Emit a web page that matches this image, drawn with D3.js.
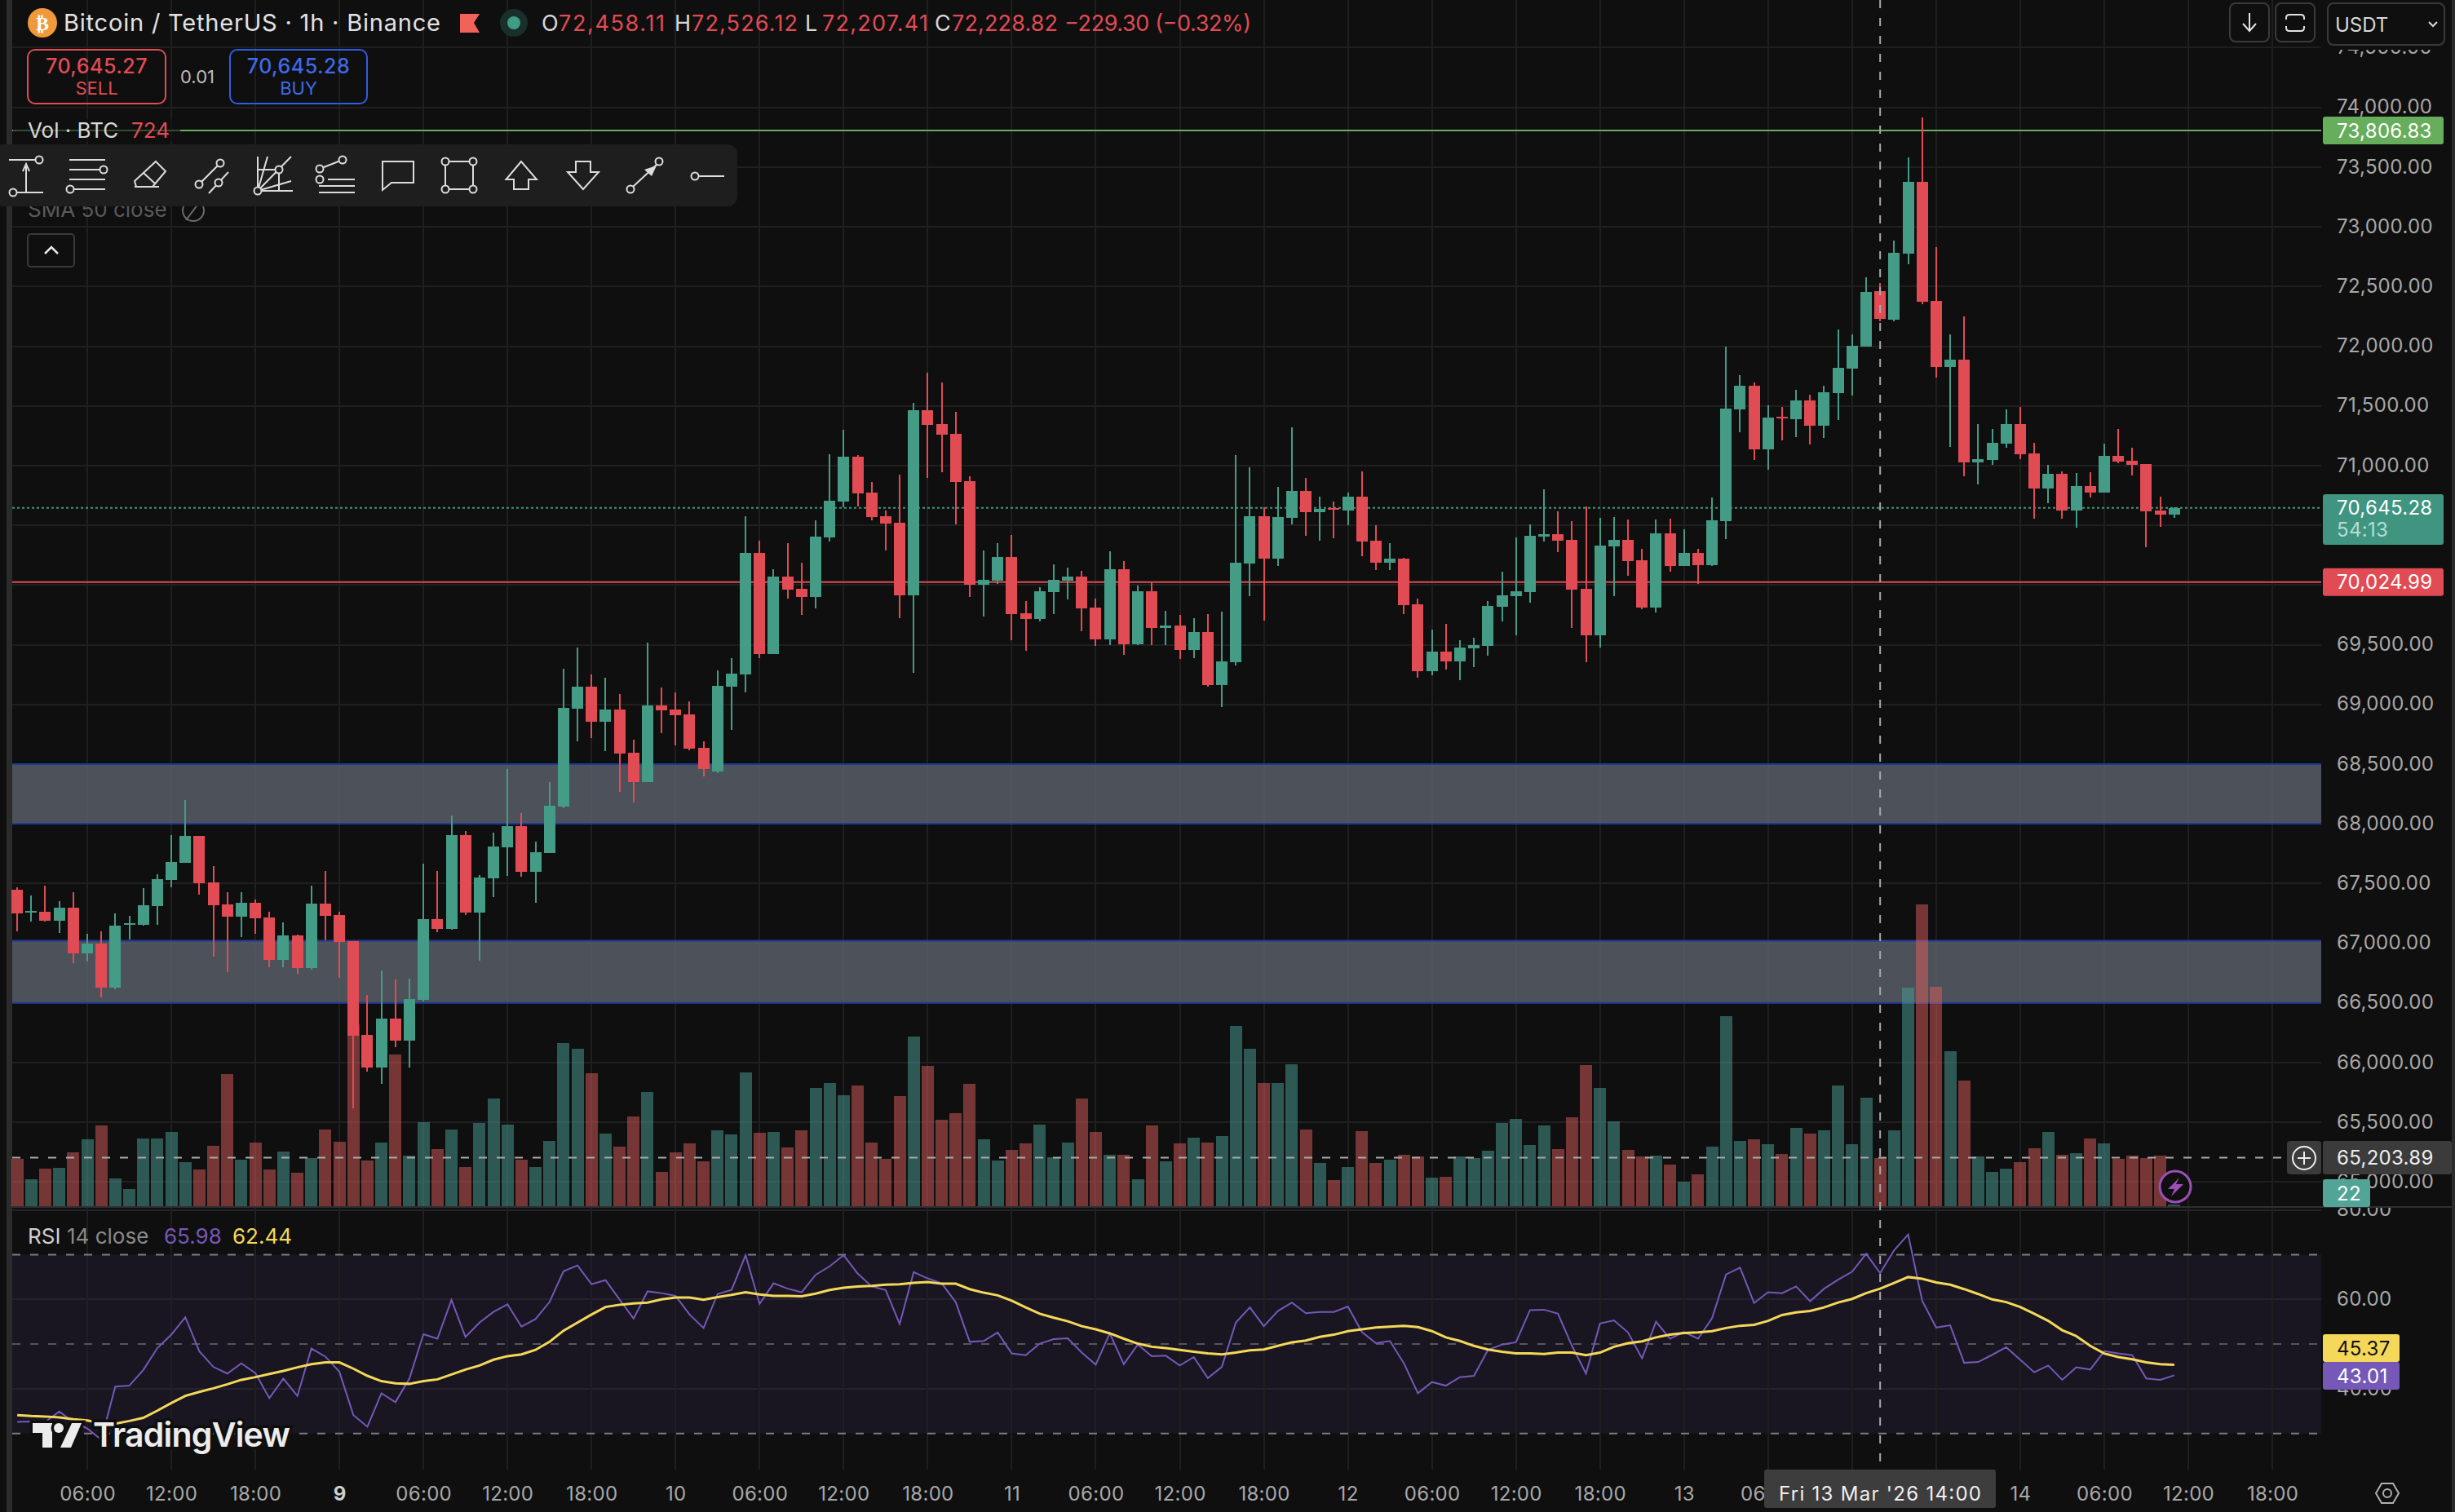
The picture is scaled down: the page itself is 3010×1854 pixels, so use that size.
<!DOCTYPE html>
<html>
<head>
<meta charset="utf-8">
<script src="https://cdn.jsdelivr.net/npm/d3@7"></script>
<style>
  html, body { margin: 0; padding: 0; background: #0f0f0f; overflow: hidden; }
  svg { display: block; font-family: Inter, "Noto Sans", sans-serif; }
</style>
</head>
<body>
<script>
//DATA - one entry per hour, first candle is 01:00 on the 8th
var firstHour = -5;

var opens = [
  67445,67257,67264,67187,67299,66915,66995,66626,67152,67152,
  67309,67529,67672,67898,67508,67323,67222,67337,67215,66860,
  67065,66790,67330,67236,67016,66232,65957,66368,66183,66525,
  67201,67121,67905,67257,67543,67804,67982,67598,67755,68146,
  68964,69149,68853,68957,68595,68348,68991,68957,68916,68636,
  68437,69148,69250,70268,69421,70070,69968,69899,70398,70699,
  71074,70774,70576,70521,69913,71464,71348,71266,70869,70002,
  70036,70234,69763,69715,69940,70036,70070,69811,69544,70132,
  69503,69947,69640,69660,69455,69606,69162,69353,70180,70576,
  70220,70562,70788,70610,70644,70624,70740,70371,70186,70221,
  69838,69278,69442,69360,69469,69490,69818,69906,69940,70405,
  70426,70378,69968,69578,70323,70378,70207,69811,70432,70159,
  70268,70166,70535,71470,71670,71135,71409,71389,71545,71333,
  71606,71811,71996,72458.11,72221,72775,73377,72380,71826,71887,
  71026,71048,71184,71348,71101,70809,70930,70623,70828,70774,
  71082,71040,71013,70623,70589
];
var highs = [
  67469,67400,67480,67351,67428,67079,67100,67250,67229,67462,
  67577,67905,68198,67898,67644,67428,67428,67365,67264,67173,
  67072,67480,67605,67264,67016,66567,66772,66696,66703,67665,
  67605,68069,67940,67570,67926,68459,68090,67849,68348,69299,
  69477,69250,69222,69086,68703,69519,69139,69098,69025,68688,
  69285,69387,70576,70371,70132,70350,70186,70542,71095,71300,
  71088,70863,70624,70924,71525,71778,71696,71450,70910,70289,
  70350,70419,69865,69981,70173,70145,70118,69886,70282,70200,
  69995,70022,69783,69749,69722,69756,69776,71088,70985,70651,
  70822,71320,70897,70740,70699,70774,70951,70501,70350,70227,
  69886,69626,69674,69538,69558,69865,70111,70398,70507,70801,
  70617,70535,70658,70562,70569,70548,70302,70548,70555,70466,
  70302,70733,71996,71757,71696,71504,71492,71636,71594,71670,
  72140,72099,72577,72526.12,72884,73582,73916,72831,72099,72250,
  71348,71306,71470,71492,71192,71006,70952,70938,70945,71184,
  71306,71150,71013,70740,70650
];
var lows = [
  67100,67180,67180,67086,66832,66849,66546,66616,67030,67150,
  67152,67469,67670,67407,66887,66758,67051,67079,66797,66797,
  66745,66779,67023,66710,65615,65926,65821,66128,65957,66511,
  67093,67114,67236,66853,67386,67563,67556,67337,67753,68132,
  68689,68717,68609,68267,68177,68346,68759,68656,68615,68397,
  68424,68786,69100,69387,69419,69886,69749,69804,70364,70651,
  70658,70542,70289,69722,69264,70897,70945,70507,69899,69735,
  70009,69537,69449,69694,69756,69879,69612,69490,69496,69414,
  69496,69496,69496,69380,69387,69148,68977,69326,69906,69701,
  70159,70507,70412,70371,70391,70501,70241,70125,70125,69756,
  69223,69244,69292,69203,69312,69408,69695,69578,69852,70364,
  70275,69640,69353,69476,69906,70077,69797,69770,70111,70157,
  70009,70159,70384,71279,71048,70965,71211,71238,71177,71230,
  71382,71587,71994,72207.41,72209,72687,72353,71738,71157,70911,
  70843,71006,71150,71055,70555,70684,70555,70479,70733,70772,
  71021,70918,70316,70486,70562
];
var closes = [
  67250,67271,67187,67299,66915,66995,66626,67145,67166,67316,
  67536,67678,67898,67501,67316,67222,67337,67208,66860,67065,
  66790,67330,67229,67009,66225,65957,66368,66183,66532,67201,
  67121,67905,67257,67550,67811,67982,67598,67762,68153,68971,
  69149,68853,68957,68588,68348,68992,68950,68909,68629,68459,
  69155,69257,70268,69421,70070,69961,69899,70405,70705,71074,
  70767,70569,70514,69913,71464,71341,71259,70863,70002,70043,
  70234,69756,69715,69947,70043,70070,69804,69544,70132,69503,
  69947,69640,69660,69455,69606,69162,69360,70186,70576,70220,
  70569,70787,70610,70637,70630,70740,70364,70186,70221,69831,
  69278,69442,69360,69476,69497,69824,69913,69947,70412,70426,
  70371,69961,69578,70330,70378,70200,69811,70432,70159,70268,
  70166,70542,71477,71670,71135,71401,71399,71545,71333,71614,
  71818,72004,72455,72228.82,72782,73377,72372,71826,71887,71026,
  71055,71192,71348,71094,70809,70930,70623,70828,70774,71082,
  71033,71006,70616,70589,70645.28
];
var volumes = [
  712,405,564,577,810,1006,1215,417,258,1018,
  1018,1117,663,552,908,1988,699,957,552,822,
  503,724,1153,969,2736,687,957,2282,761,1264,
  859,1153,589,1252,1620,1227,699,589,982,2454,
  2368,2000,1092,896,1350,1718,515,810,945,675,
  1141,1080,2012,1104,1117,883,1141,1779,1853,1669,
  1816,957,712,1656,2552,2110,1301,1399,1841,1006,
  687,847,945,1227,736,957,1620,1117,773,773,
  405,1215,675,945,1031,957,1055,2712,2368,1853,
  1853,2135,1153,650,393,589,1129,650,699,773,
  748,429,442,748,724,834,1252,1313,920,1215,
  859,1337,2123,1779,1276,847,748,761,626,368,
  479,896,2859,982,1006,933,785,1178,1092,1141,
  1816,933,1632,724,1141,3288,4540,3301,2331,1890,
  748,515,564,663,871,1117,773,798,1018,945,
  712,761,724,761,22
];
var rsiValues = [
  32.6,32.7,32.6,34.9,32.6,31.1,28.6,40.5,40.7,44.2,
  49.1,52.1,56.0,48.4,44.9,43.4,45.7,43.5,37.9,42.3,
  38.4,49.0,47.2,43.8,34.1,31.5,39.0,37.0,42.3,52.2,
  51.2,59.9,51.6,54.8,57.2,58.9,53.9,55.6,59.4,66.3,
  67.6,63.4,64.3,60.0,55.7,61.8,61.4,60.8,56.6,53.6,
  61.2,62.1,69.9,59.0,63.6,62.4,61.6,65.5,67.4,69.9,
  65.8,62.9,62.1,54.5,66.1,64.7,63.6,59.4,50.5,50.7,
  52.6,47.9,47.5,50.1,51.1,51.3,48.1,45.4,52.4,45.5,
  49.9,47.3,47.4,45.2,47.1,42.4,44.9,54.8,58.2,54.0,
  57.4,59.3,56.9,57.2,57.2,58.4,52.7,50.2,50.7,45.7,
  39.0,41.5,40.7,42.6,42.9,48.7,49.9,50.4,57.6,57.7,
  56.8,49.6,43.4,54.6,55.3,52.6,46.8,55.0,51.2,52.7,
  51.2,55.8,65.6,67.1,59.2,61.6,61.4,62.9,59.6,62.4,
  64.4,66.2,70.2,65.9,71.0,74.5,59.7,53.7,54.2,45.8,
  46.0,47.6,49.3,46.5,43.7,45.2,42.0,44.8,44.3,48.4,
  47.9,47.5,42.3,42.0,43.01
];
var rsiMa = [
  34.1,33.9,33.8,33.6,33.2,32.9,32.3,32.2,32.8,33.5,
  35.1,36.8,38.4,39.3,40.1,41.0,42.0,42.6,43.3,44.0,
  44.8,45.5,45.9,45.9,44.5,42.9,41.7,41.2,41.1,41.7,
  42.1,43.2,44.3,45.2,46.5,47.3,47.7,48.7,50.5,53.0,
  54.8,56.6,58.3,58.8,59.1,59.3,60.0,60.4,60.4,59.9,
  60.5,61.0,61.6,61.1,60.8,60.8,60.7,61.3,62.1,62.6,
  62.9,63.0,63.3,63.4,63.7,63.9,63.5,63.5,62.3,61.5,
  60.9,59.7,58.2,56.8,55.9,55.1,54.0,53.3,52.4,51.2,
  50.1,49.4,49.1,48.7,48.3,47.9,47.7,48.1,48.6,48.8,
  49.6,50.4,50.8,51.6,52.1,52.9,53.3,53.7,53.9,54.1,
  53.8,52.9,51.5,50.7,49.6,48.8,48.3,47.9,47.9,47.8,
  48.1,48.1,47.5,48.1,49.4,50.2,50.6,51.5,52.1,52.5,
  52.6,52.9,53.6,54.1,54.3,55.2,56.5,57.1,57.4,58.2,
  59.3,60.1,61.4,62.4,63.7,65.0,64.6,63.8,63.3,62.3,
  61.2,60.0,59.4,58.3,56.8,55.2,53.1,51.8,49.6,47.9,
  47.1,46.6,45.9,45.5,45.37
];

var priceTicks = [65000,65500,66000,66500,67000,67500,68000,68500,69000,69500,70000,70500,71000,71500,72000,72500,73000,73500,74000,74500];
var rsiTicks = [80,60,40];
var timeTickHours = [0,6,12,18,24,30,36,42,48,54,60,66,72,78,84,90,96,102,108,114,120,126,132,138,144,150,156];
var timeTickLabels = ['06:00','12:00','18:00','9','06:00','12:00','18:00','10','06:00','12:00','18:00','11','06:00','12:00','18:00','12','06:00','12:00','18:00','13','06:00','12:00','18:00','14','06:00','12:00','18:00'];

// grey zones, price top and bottom
var zoneTops = [68500,67020];
var zoneBottoms = [68000,66500];
var highLine = 73806.83, lowLine = 70024.99, lastPrice = 70645.28, crossPrice = 65203.89, crossHour = 128;

///LAYOUT
var paneLeft = 15, paneRight = 2846, paneBottom = 1480, axisTop = 1802;
var upColor = '#459c86', downColor = '#e14b54';
var gridColor = '#1f1f1f';

var svg = d3.select('body').append('svg').attr('width', 3010).attr('height', 1854);

var xScale = d3.scaleLinear().domain([0, 150]).range([107, 2683]);
var priceScale = d3.scaleLinear().domain([74000, 65000]).range([131.7, 1449.3]);
var volScale = d3.scaleLinear().domain([0, 4540]).range([1479, 1109]);
var rsiScale = d3.scaleLinear().domain([70, 30]).range([1538.5, 1757.7]);

var hourOf = function (i) { return firstHour + i; };

var label = function (x, y, txt, color, size, anchor, weight) {
  return svg.append('text')
    .attr('x', x).attr('y', y).attr('dy', '0.36em')
    .attr('fill', color)
    .attr('font-size', size)
    .attr('text-anchor', anchor || 'start')
    .attr('font-weight', weight || 400)
    .text(txt);
};

// clip paths for the half hidden axis labels, x is in the axis group's coordinates
var defs = svg.append('defs');
defs.append('clipPath').attr('id', 'priceClip').append('rect').attr('x', -19).attr('y', 61).attr('width', 160).attr('height', 1419);
defs.append('clipPath').attr('id', 'rsiClip').append('rect').attr('x', -19).attr('y', 1481).attr('width', 160).attr('height', 321);

//BACKGROUND STRIPS
svg.append('rect').attr('x', 8).attr('y', 0).attr('width', 7).attr('height', 1854).attr('fill', '#2b2b2b');
svg.append('rect').attr('x', 3006).attr('y', 0).attr('width', 4).attr('height', 1854).attr('fill', '#2b2b2b');

//RSI BAND
svg.append('rect')
  .attr('x', paneLeft).attr('y', rsiScale(70))
  .attr('width', paneRight - paneLeft).attr('height', rsiScale(30) - rsiScale(70))
  .attr('fill', '#191622');

//GRID
svg.selectAll('.hgrid').data(priceTicks).enter().append('line')
  .attr('x1', paneLeft).attr('x2', paneRight)
  .attr('y1', function (d) { return Math.round(priceScale(d)); })
  .attr('y2', function (d) { return Math.round(priceScale(d)); })
  .attr('stroke', gridColor).attr('stroke-width', 2);
svg.selectAll('.rgrid').data(rsiTicks).enter().append('line')
  .attr('x1', paneLeft).attr('x2', paneRight)
  .attr('y1', function (d) { return Math.round(rsiScale(d)); })
  .attr('y2', function (d) { return Math.round(rsiScale(d)); })
  .attr('stroke', '#24222c').attr('stroke-width', 2);
svg.selectAll('.vgrid').data(timeTickHours).enter().append('line')
  .attr('x1', function (d) { return Math.round(xScale(d)); })
  .attr('x2', function (d) { return Math.round(xScale(d)); })
  .attr('y1', 0).attr('y2', axisTop)
  .attr('stroke', gridColor).attr('stroke-width', 2);

//ZONES
svg.selectAll('.zone').data(zoneTops).enter().append('rect')
  .attr('x', paneLeft).attr('width', paneRight - paneLeft)
  .attr('y', function (d) { return priceScale(d); })
  .attr('height', function (d, i) { return priceScale(zoneBottoms[i]) - priceScale(d); })
  .attr('fill', '#5c616c').attr('fill-opacity', 0.8);
[zoneTops, zoneBottoms].forEach(function (edge) {
  svg.selectAll(null).data(edge).enter().append('line')
    .attr('x1', paneLeft).attr('x2', paneRight)
    .attr('y1', function (d) { return priceScale(d); })
    .attr('y2', function (d) { return priceScale(d); })
    .attr('stroke', '#1f3a9c').attr('stroke-width', 2);
});

//VOLUME
svg.selectAll('.vol').data(volumes).enter().append('rect')
  .attr('x', function (d, i) { return Math.round(xScale(hourOf(i)) - 7.5); })
  .attr('width', 15)
  .attr('y', function (d) { return volScale(d); })
  .attr('height', function (d) { return volScale(0) - volScale(d); })
  .attr('fill', function (d, i) { return closes[i] >= opens[i] ? '#489891' : '#df5d5d'; })
  .attr('fill-opacity', function (d, i) { return closes[i] >= opens[i] ? 0.54 : 0.5; })
  .attr('shape-rendering', 'crispEdges');

//HORIZONTAL PRICE LINES
svg.append('line').attr('x1', paneLeft).attr('x2', paneRight)
  .attr('y1', priceScale(highLine)).attr('y2', priceScale(highLine))
  .attr('stroke', '#66ad5c').attr('stroke-width', 2);
svg.append('line').attr('x1', paneLeft).attr('x2', paneRight)
  .attr('y1', priceScale(lowLine)).attr('y2', priceScale(lowLine))
  .attr('stroke', '#e14b54').attr('stroke-width', 2);
svg.append('line').attr('x1', paneLeft).attr('x2', paneRight)
  .attr('y1', priceScale(lastPrice)).attr('y2', priceScale(lastPrice))
  .attr('stroke', '#3f9580').attr('stroke-width', 2).attr('stroke-dasharray', '3 3');

//CANDLES
var candleColor = function (d, i) { return closes[i] >= opens[i] ? upColor : downColor; };
svg.selectAll('.wick').data(opens).enter().append('rect')
  .attr('x', function (d, i) { return Math.round(xScale(hourOf(i))) - 1; })
  .attr('width', 2)
  .attr('y', function (d, i) { return priceScale(highs[i]); })
  .attr('height', function (d, i) { return priceScale(lows[i]) - priceScale(highs[i]); })
  .attr('fill', candleColor)
  .attr('shape-rendering', 'crispEdges');
svg.selectAll('.body').data(opens).enter().append('rect')
  .attr('x', function (d, i) { return Math.round(xScale(hourOf(i))) - 7; })
  .attr('width', 14)
  .attr('y', function (d, i) { return priceScale(Math.max(d, closes[i])); })
  .attr('height', function (d, i) { return Math.max(2, Math.abs(priceScale(d) - priceScale(closes[i]))); })
  .attr('fill', candleColor)
  .attr('shape-rendering', 'crispEdges');

//RSI LINES
[70, 30, 50].forEach(function (v) {
  svg.append('line').attr('x1', paneLeft).attr('x2', paneRight)
    .attr('y1', rsiScale(v)).attr('y2', rsiScale(v))
    .attr('stroke', v === 50 ? '#55555f' : '#7d7d85').attr('stroke-width', 2)
    .attr('stroke-dasharray', '10 12');
});
var rsiLine = d3.line()
  .x(function (d, i) { return xScale(hourOf(i)); })
  .y(function (d) { return rsiScale(d); });
svg.append('path').datum(rsiValues).attr('d', rsiLine)
  .attr('fill', 'none').attr('stroke', '#7558b8').attr('stroke-width', 2);
svg.append('path').datum(rsiMa).attr('d', rsiLine)
  .attr('fill', 'none').attr('stroke', '#f5d85a').attr('stroke-width', 3);

// pane separator
svg.append('rect').attr('x', paneLeft).attr('y', paneBottom - 1).attr('width', 2991).attr('height', 2).attr('fill', '#2f2f2f');

//AXES
var priceG = svg.append('g')
  .attr('transform', 'translate(2865,0)')
  .attr('clip-path', 'url(#priceClip)')
  .call(d3.axisRight(priceScale).tickValues(priceTicks).tickFormat(d3.format(',.2f')).tickSize(0).tickPadding(0));
var rsiG = svg.append('g')
  .attr('transform', 'translate(2865,0)')
  .attr('clip-path', 'url(#rsiClip)')
  .call(d3.axisRight(rsiScale).tickValues(rsiTicks).tickFormat(d3.format('.2f')).tickSize(0).tickPadding(0));
var timeG = svg.append('g')
  .attr('transform', 'translate(0,1831)')
  .call(d3.axisBottom(xScale).tickValues(timeTickHours).tickFormat(function (d, i) { return timeTickLabels[i]; }).tickSize(0).tickPadding(0));
[priceG, rsiG, timeG].forEach(function (g) {
  g.select('.domain').remove();
  g.selectAll('text')
    .attr('fill', '#a8a8a8')
    .attr('font-size', 24)
    .attr('letter-spacing', 0.3)
    .attr('dy', '0.3em')
    .attr('font-family', 'Inter, sans-serif');
});
// only the first day label is bold in the reference
timeG.selectAll('text').attr('y', 0).attr('dy', '0.36em')
  .attr('font-weight', function (d, i) { return timeTickLabels[i] === '9' ? 700 : 400; })
  .attr('fill', function (d, i) { return timeTickLabels[i] === '9' ? '#d0d0d0' : '#a8a8a8'; });

//CROSSHAIR
svg.append('line').attr('x1', xScale(crossHour)).attr('x2', xScale(crossHour)).attr('y1', 0).attr('y2', axisTop)
  .attr('stroke', '#aaaaaa').attr('stroke-width', 2).attr('stroke-dasharray', '10 12');
svg.append('line').attr('x1', paneLeft).attr('x2', 2804)
  .attr('y1', priceScale(crossPrice)).attr('y2', priceScale(crossPrice))
  .attr('stroke', '#aaaaaa').attr('stroke-width', 2).attr('stroke-dasharray', '10 12');
svg.append('rect').attr('x', 2163).attr('y', 1802).attr('width', 284).attr('height', 47).attr('rx', 3).attr('fill', '#3d3d3d');
label(2305, 1831, "Fri 13 Mar '26   14:00", '#f0f0f0', 24, 'middle').attr('textLength', 248).attr('lengthAdjust', 'spacing');
svg.append('rect').attr('x', 2804).attr('y', 1399).attr('width', 42).attr('height', 41).attr('rx', 4).attr('fill', '#3b3b3b');
svg.append('circle').attr('cx', 2825).attr('cy', 1420).attr('r', 14).attr('fill', 'none').attr('stroke', '#eee').attr('stroke-width', 2);
svg.append('path').attr('d', 'M2825,1412V1428M2817,1420H2833').attr('stroke', '#eee').attr('stroke-width', 2);

//PRICE LABELS
var priceTag = function (y, h, fill, txt, width, color) {
  svg.append('rect').attr('x', 2848).attr('y', y - h / 2).attr('width', width).attr('height', h).attr('rx', 3).attr('fill', fill);
  if (txt) { label(2865, y, txt, color || '#ffffff', 24).attr('letter-spacing', 0.3); }
};
priceTag(priceScale(highLine), 34, '#66ad5c', d3.format(',.2f')(highLine), 148);
priceTag(priceScale(lowLine), 34, '#e14b54', d3.format(',.2f')(lowLine), 148);
priceTag(637, 62, '#3f9580', null, 148);
label(2865, priceScale(lastPrice), d3.format(',.2f')(lastPrice), '#ffffff', 24).attr('letter-spacing', 0.3);
label(2865, 649, '54:13', '#b5dcd2', 24).attr('letter-spacing', 0.3);
priceTag(priceScale(crossPrice), 41, '#3b3b3b', d3.format(',.2f')(crossPrice), 158, '#eeeeee');
priceTag(1463, 34, '#52a596', '22', 58);
priceTag(1653, 34, '#f5d85a', '45.37', 94, '#111111');
priceTag(1687, 34, '#7558b8', '43.01', 94);

//LIGHTNING
svg.append('circle').attr('cx', 2667).attr('cy', 1455).attr('r', 19).attr('fill', '#0f0f0f').attr('stroke', '#9b4fb8').attr('stroke-width', 3);
svg.append('path').attr('d', 'M2672,1444L2658,1458H2666L2662,1467L2677,1452H2668Z').attr('fill', '#9b4fb8');

//WATERMARK
var wm = svg.append('g').attr('stroke', '#0f0f0f').attr('stroke-width', 7).attr('paint-order', 'stroke').attr('fill', '#ececec');
wm.append('path').attr('d', 'M40,1745H64V1775H52V1757H40Z');
wm.append('circle').attr('cx', 72).attr('cy', 1751).attr('r', 6);
wm.append('path').attr('d', 'M88,1745H100L87,1775H74Z');
wm.append('text').attr('x', 114).attr('y', 1774).attr('font-size', 41).attr('font-weight', 600).attr('letter-spacing', -0.8).text('TradingView');

//TOP LEGEND
svg.append('circle').attr('cx', 52).attr('cy', 28).attr('r', 18).attr('fill', '#f0993a');
label(52, 28, '₿', '#ffffff', 24, 'middle', 700).attr('font-family', '"DejaVu Sans"');
label(78, 28, 'Bitcoin / TetherUS · 1h · Binance', '#e2e2e2', 29).attr('textLength', 462).attr('lengthAdjust', 'spacing');
svg.append('path').attr('d', 'M564,17H588L581,28L588,40H564Z').attr('fill', '#f0625a');
svg.append('circle').attr('cx', 630).attr('cy', 28).attr('r', 17).attr('fill', '#1a2f2b');
svg.append('circle').attr('cx', 630).attr('cy', 28).attr('r', 8).attr('fill', '#3e9d85');
var ohlcNames = ['O', 'H', 'L', 'C'];
var ohlcValues = ['72,458.11', '72,526.12', '72,207.41', '72,228.82'];
var ohlcX = [664, 827, 987, 1146];
ohlcNames.forEach(function (n, i) {
  label(ohlcX[i], 28, n, '#d8d8d8', 27);
  label(ohlcX[i] + 21, 28, ohlcValues[i], '#e14b54', 27).attr('textLength', 130).attr('lengthAdjust', 'spacing');
});
label(1305, 28, '−229.30 (−0.32%)', '#e14b54', 27).attr('textLength', 229).attr('lengthAdjust', 'spacing');

// sell and buy boxes
svg.append('rect').attr('x', 34).attr('y', 61).attr('width', 169).attr('height', 66).attr('rx', 9).attr('fill', 'none').attr('stroke', '#e14b54').attr('stroke-width', 2);
label(118.5, 81, '70,645.27', '#e14b54', 25, 'middle', 500).attr('letter-spacing', 0.5);
label(118.5, 108, 'SELL', '#e14b54', 22, 'middle');
label(242, 94, '0.01', '#bdbdbd', 22, 'middle');
svg.append('rect').attr('x', 282).attr('y', 61).attr('width', 168).attr('height', 66).attr('rx', 9).attr('fill', 'none').attr('stroke', '#2f5de0').attr('stroke-width', 2);
label(366, 81, '70,645.28', '#3f6ae8', 25, 'middle', 500).attr('letter-spacing', 0.5);
label(366, 108, 'BUY', '#3f6ae8', 22, 'middle');

// indicator names
svg.append('rect').attr('x', 16).attr('y', 146).attr('width', 205).attr('height', 28).attr('fill', '#0f0f0f').attr('fill-opacity', 0.6);
label(34, 160, 'Vol · BTC', '#d8d8d8', 26);
label(161, 160, '724', '#e14b54', 26);
label(34, 257, 'SMA 50 close', '#5a5a5a', 26);
svg.append('circle').attr('cx', 237).attr('cy', 258).attr('r', 13).attr('fill', 'none').attr('stroke', '#6a6a6a').attr('stroke-width', 2);
svg.append('path').attr('d', 'M228,270L246,246').attr('stroke', '#6a6a6a').attr('stroke-width', 2);
svg.append('rect').attr('x', 34).attr('y', 287).attr('width', 57).attr('height', 40).attr('rx', 4).attr('fill', '#0f0f0f').attr('stroke', '#3a3a3a').attr('stroke-width', 2);
svg.append('path').attr('d', 'M55,311L63,303L71,311').attr('fill', 'none').attr('stroke', '#e8e8e8').attr('stroke-width', 2.5);

// rsi legend
label(34, 1516, 'RSI', '#d0d0d0', 26);
label(82, 1516, '14 close', '#8a8a8a', 26);
label(201, 1516, '65.98', '#7558b8', 26);
label(285, 1516, '62.44', '#f5d85a', 26);

//TOOLBAR
svg.append('rect').attr('x', -12).attr('y', 177).attr('width', 916).attr('height', 76).attr('rx', 12).attr('fill', '#1e1e1e');
var iconLines = [
  'M11,196H45M16,236H53M32,236V204M28,210L32,201L36,210',
  'M85,196H129M85,208H123M85,220H129M90,232H129',
  'M191,198L203,210L187,229H167L165,222ZM176,212L191,226M165,229H195',
  'M270,200L244,226M280,211L256,237',
  'M316,192V234H359M316,234L357,192M316,234L328,192M316,234L357,222M316,208H342V234',
  'M420,196L392,207M402,220H435M391,228H435M391,236H435',
  'M469,198H507V224H480L469,233Z',
  'M546,198H580M546,232H580M546,198V232M580,198V232',
  'M639,198L620.5,220H630V232H648V220H658Z',
  'M715,232L696,211H706V198H724V211H734Z',
  'M776,229L806,201',
  'M852,216H888'
];
var iconCircles = [[48,196],[16,236],[127,208],[86,232],[270,200],[244,226],[268,224],[342,208],[316,234],[420,196],[392,207],[392,220],[546,198],[580,198],[546,232],[580,232],[773,232],[808,198],[852,216]];
svg.selectAll('.icon').data(iconLines).enter().append('path')
  .attr('d', function (d) { return d; })
  .attr('fill', 'none').attr('stroke', '#dcdcdc').attr('stroke-width', 2);
svg.selectAll('.iconDot').data(iconCircles).enter().append('circle')
  .attr('cx', function (d) { return d[0]; }).attr('cy', function (d) { return d[1]; })
  .attr('r', 4.5).attr('fill', '#1e1e1e').attr('stroke', '#dcdcdc').attr('stroke-width', 2);
svg.append('path').attr('d', 'M805,203L790,208L799,216Z').attr('fill', '#dcdcdc');

//TOP RIGHT BUTTONS
svg.append('rect').attr('x', 2734).attr('y', 4).attr('width', 48).attr('height', 47).attr('rx', 7).attr('fill', 'none').attr('stroke', '#3a3a3a').attr('stroke-width', 2);
svg.append('path').attr('d', 'M2758,16V38M2750,29L2758,38L2766,29').attr('fill', 'none').attr('stroke', '#e2e2e2').attr('stroke-width', 2);
svg.append('rect').attr('x', 2790).attr('y', 4).attr('width', 48).attr('height', 47).attr('rx', 7).attr('fill', 'none').attr('stroke', '#3a3a3a').attr('stroke-width', 2);
svg.append('path').attr('d', 'M2803,24V22Q2803,18 2807,18H2821Q2825,18 2825,22V24M2803,32V34Q2803,38 2807,38H2821Q2825,38 2825,34V32').attr('fill', 'none').attr('stroke', '#e2e2e2').attr('stroke-width', 2);
svg.append('rect').attr('x', 2854).attr('y', 4).attr('width', 143).attr('height', 51).attr('rx', 7).attr('fill', '#0f0f0f').attr('stroke', '#3a3a3a').attr('stroke-width', 2);
label(2863, 30, 'USDT', '#d8d8d8', 24);
svg.append('path').attr('d', 'M2978,27L2983,32L2988,27').attr('fill', 'none').attr('stroke', '#d8d8d8').attr('stroke-width', 2);

// settings hexagon
svg.append('path').attr('d', 'M2913,1831L2920,1819H2934L2941,1831L2934,1843H2920Z').attr('fill', 'none').attr('stroke', '#b0b0b0').attr('stroke-width', 2);
svg.append('circle').attr('cx', 2927).attr('cy', 1831).attr('r', 5).attr('fill', 'none').attr('stroke', '#b0b0b0').attr('stroke-width', 2);
</script>
</body>
</html>
